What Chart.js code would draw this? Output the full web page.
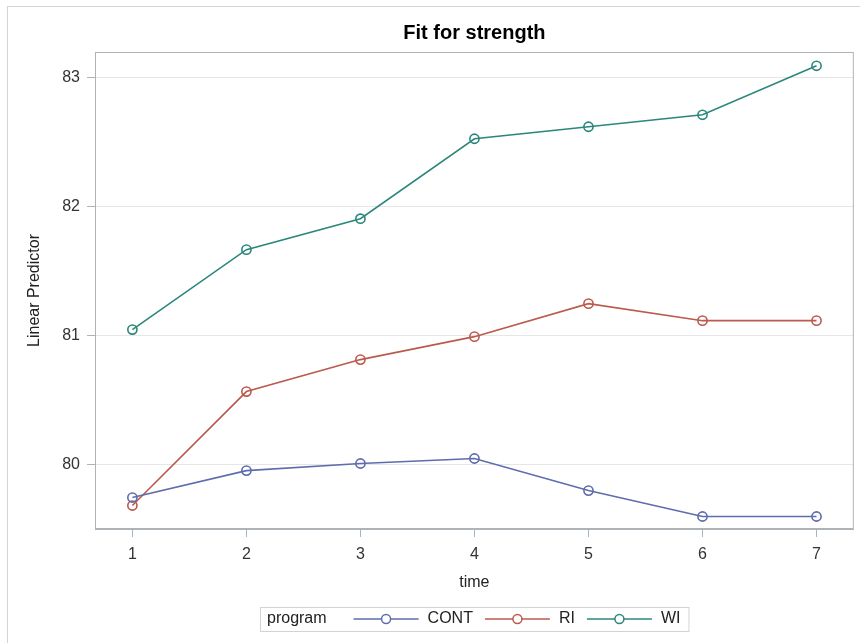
<!DOCTYPE html>
<html>
<head>
<meta charset="utf-8">
<script src="https://cdn.jsdelivr.net/npm/chart.js@4"></script>
<style>
  html, body { margin: 0; padding: 0; background: #fff; }
  #wrap { position: relative; width: 860px; height: 643px; overflow: hidden; }
  #frame { position: absolute; left: 7px; top: 6px; width: 900px; height: 700px; border: 1px solid #d4d4d4; }
  #myChart { position: absolute; left: 0; top: 0; }
</style>
</head>
<body>
<div id="wrap">
  <div id="frame"></div>
  <canvas id="myChart" width="860" height="643"></canvas>
</div>
<script>
// values
const times = [1, 2, 3, 4, 5, 6, 7];
const cont = [79.744, 79.953, 80.008, 80.047, 79.798, 79.597, 79.597];
const ri = [79.682, 80.566, 80.814, 80.992, 81.248, 81.116, 81.116];
const wi = [81.047, 81.667, 81.907, 82.527, 82.620, 82.713, 83.093];
const yTicks = [80, 81, 82, 83];

const programs = ["CONT", "RI", "WI"];
const colors = ["#5f6cad", "#bb5a4d", "#2c877b"];
const seriesValues = [cont, ri, wi];

const axisGray = "#adb3b7";
const font = "'Liberation Sans', Arial, sans-serif";

// build the datasets from the arrays above
const datasets = [];
for (let i = 0; i < programs.length; i++) {
  datasets.push({
    label: programs[i],
    data: times.map((t, j) => ({ x: t, y: seriesValues[i][j] })),
    borderColor: colors[i],
    backgroundColor: "transparent",
    borderWidth: 1.6,
    pointRadius: 4.6,
    pointBorderWidth: 1.6,
    pointBorderColor: colors[i],
    pointBackgroundColor: "transparent",
    tension: 0,
  });
}

// frame around the plot area + the boxed legend at the bottom
const framePlugin = {
  id: "framePlugin",
  beforeDatasetsDraw(chart) {
    const { ctx, chartArea } = chart;
    ctx.save();
    ctx.strokeStyle = axisGray;
    ctx.lineWidth = 1;
    ctx.strokeRect(chartArea.left + 0.5, chartArea.top + 0.5, chartArea.right - chartArea.left - 1, chartArea.bottom - chartArea.top - 1);
    ctx.restore();
  },
  afterDraw(chart) {
    const { ctx, chartArea } = chart;
    ctx.save();
    ctx.font = "16px " + font;
    const lineLen = 65;
    let width = 7 + ctx.measureText("program").width + 27;
    chart.data.datasets.forEach((ds, i) => {
      width += lineLen + 9 + ctx.measureText(ds.label).width;
      if (i < chart.data.datasets.length - 1) width += 12;
    });
    width += 8;
    const cx = (chartArea.left + chartArea.right) / 2;
    const left = Math.round(cx - width / 2);
    const top = 607, h = 24, mid = top + h / 2;

    ctx.strokeStyle = "#d3d3d3";
    ctx.lineWidth = 1;
    ctx.strokeRect(left + 0.5, top + 0.5, width, h);

    ctx.fillStyle = "#222";
    ctx.textBaseline = "middle";
    ctx.textAlign = "left";
    let x = left + 7;
    ctx.fillText("program", x, mid);
    x += ctx.measureText("program").width + 27;

    chart.data.datasets.forEach((ds) => {
      ctx.strokeStyle = ds.borderColor;
      ctx.lineWidth = 1.5;
      ctx.beginPath();
      ctx.moveTo(x, mid);
      ctx.lineTo(x + lineLen, mid);
      ctx.stroke();
      ctx.beginPath();
      ctx.arc(x + lineLen / 2, mid, 4.5, 0, Math.PI * 2);
      ctx.fillStyle = "#fff";
      ctx.fill();
      ctx.stroke();
      x += lineLen + 9;
      ctx.fillStyle = "#222";
      ctx.fillText(ds.label, x, mid);
      x += ctx.measureText(ds.label).width + 12;
    });
    ctx.restore();
  },
};

new Chart(document.getElementById("myChart"), {
  type: "line",
  data: { datasets: datasets },
  options: {
    responsive: false,
    animation: false,
    layout: { padding: { left: 21, right: 6, top: 0, bottom: 47 } },
    plugins: {
      legend: { display: false },
      tooltip: { enabled: false },
      title: {
        display: true,
        text: "Fit for strength",
        fullSize: false,
        color: "#000",
        font: { family: font, size: 20, weight: "bold", lineHeight: 1.2 },
        padding: { top: 21, bottom: 7 },
      },
    },
    scales: {
      x: {
        type: "linear",
        min: 0.672,
        max: 7.327,
        afterBuildTicks: (scale) => { scale.ticks = times.map((v) => ({ value: v })); },
        afterFit: (scale) => { scale.height = 67; },
        grid: { color: "transparent", tickColor: axisGray, tickLength: 8, drawOnChartArea: false },
        border: { color: axisGray },
        ticks: { color: "#333", padding: 8, font: { family: font, size: 16 }, maxRotation: 0 },
        title: { display: true, text: "time", color: "#222", font: { family: font, size: 16 } },
      },
      y: {
        min: 79.5,
        max: 83.2,
        afterBuildTicks: (scale) => { scale.ticks = yTicks.map((v) => ({ value: v })); },
        afterFit: (scale) => { scale.width = 74; },
        grid: { color: "#e6e6e6", tickColor: axisGray, tickLength: 8 },
        border: { color: axisGray },
        ticks: { color: "#333", padding: 7, font: { family: font, size: 16 } },
        title: { display: true, text: "Linear Predictor", color: "#222", font: { family: font, size: 16 } },
      },
    },
  },
  plugins: [framePlugin],
});
</script>
</body>
</html>
